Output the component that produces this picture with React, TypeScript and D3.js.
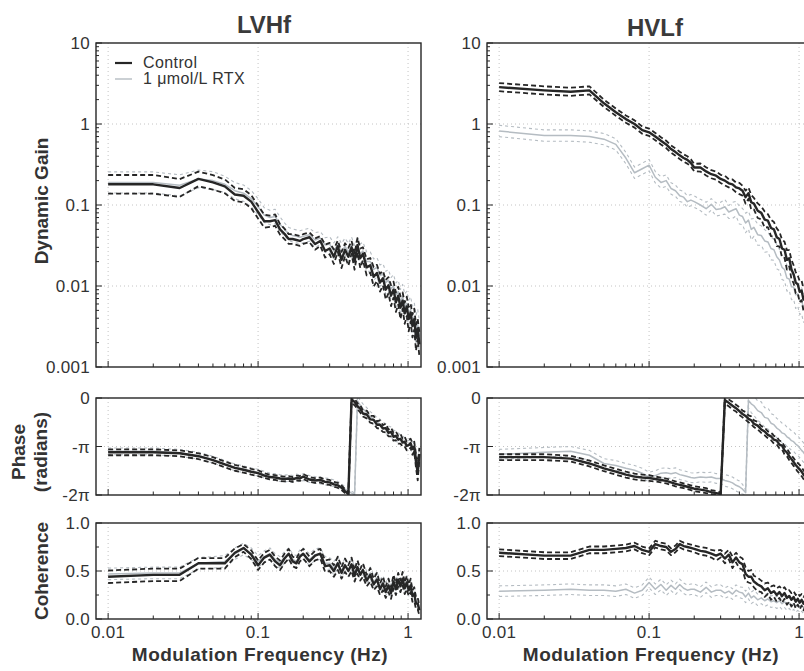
import * as d3 from 'd3';

// modulation frequencies (Hz)
const freq = [
  0.01, 0.02, 0.03, 0.04, 0.05, 0.06, 0.07, 0.08, 0.09, 0.10,
  0.11, 0.12, 0.13, 0.14, 0.15, 0.16, 0.17, 0.18, 0.19, 0.20,
  0.22, 0.24, 0.26, 0.28, 0.30, 0.32, 0.34, 0.36, 0.38, 0.40,
  0.42, 0.44, 0.46, 0.48, 0.50, 0.53, 0.56, 0.59, 0.62, 0.65,
  0.68, 0.71, 0.74, 0.77, 0.80, 0.83, 0.86, 0.89, 0.92, 0.95,
  0.98, 1.01, 1.04, 1.07, 1.10, 1.13, 1.16, 1.19,
];

// ---- LVHf ----
const lvGainCtl = [
  0.18, 0.18, 0.162, 0.21, 0.19, 0.17, 0.135, 0.13, 0.11, 0.082,
  0.063, 0.063, 0.065, 0.05, 0.044, 0.038, 0.038, 0.037, 0.036, 0.038,
  0.04, 0.033, 0.036, 0.027, 0.029, 0.023, 0.031, 0.021, 0.028, 0.023,
  0.03, 0.02, 0.032, 0.022, 0.025, 0.017, 0.018, 0.013, 0.0145, 0.011,
  0.0125, 0.009, 0.0102, 0.0076, 0.009, 0.0063, 0.0076, 0.0054, 0.0066, 0.0046,
  0.0056, 0.0039, 0.0047, 0.0032, 0.0039, 0.0023, 0.003, 0.0019,
];
const lvGainCtlSe = [
  0.115, 0.115, 0.11, 0.09, 0.09, 0.085, 0.08, 0.08, 0.08, 0.08,
  0.08, 0.07, 0.07, 0.065, 0.065, 0.06, 0.06, 0.06, 0.06, 0.06,
  0.06, 0.07, 0.06, 0.08, 0.07, 0.09, 0.07, 0.1, 0.08, 0.11,
  0.08, 0.1, 0.09, 0.12, 0.08, 0.1, 0.09, 0.12, 0.1, 0.11,
  0.09, 0.12, 0.1, 0.13, 0.1, 0.12, 0.11, 0.14, 0.1, 0.13,
  0.12, 0.15, 0.11, 0.14, 0.13, 0.16, 0.12, 0.15,
];
const lvGainRtx = [
  0.19, 0.19, 0.175, 0.21, 0.2, 0.18, 0.15, 0.14, 0.12, 0.095,
  0.075, 0.07, 0.072, 0.058, 0.05, 0.044, 0.042, 0.041, 0.04, 0.041,
  0.043, 0.037, 0.039, 0.032, 0.033, 0.027, 0.033, 0.026, 0.031, 0.026,
  0.032, 0.024, 0.031, 0.025, 0.027, 0.02, 0.02, 0.016, 0.017, 0.0135,
  0.014, 0.011, 0.0118, 0.0092, 0.01, 0.0077, 0.0085, 0.0064, 0.0074, 0.0055,
  0.0061, 0.0046, 0.0051, 0.0038, 0.0042, 0.0029, 0.0034, 0.0024,
];
const lvGainRtxSe = [
  0.13, 0.13, 0.13, 0.11, 0.11, 0.1, 0.1, 0.1, 0.1, 0.1,
  0.09, 0.09, 0.09, 0.09, 0.08, 0.08, 0.08, 0.08, 0.08, 0.08,
  0.08, 0.09, 0.08, 0.09, 0.09, 0.1, 0.09, 0.11, 0.1, 0.11,
  0.1, 0.12, 0.11, 0.12, 0.11, 0.12, 0.12, 0.13, 0.12, 0.13,
  0.13, 0.14, 0.13, 0.14, 0.14, 0.15, 0.14, 0.15, 0.15, 0.16,
  0.15, 0.16, 0.16, 0.17, 0.17, 0.18, 0.18, 0.19,
];
// phase in units of pi radians
const lvPhaseCtl = [
  -1.12, -1.12, -1.14, -1.2, -1.28, -1.37, -1.44, -1.48, -1.52, -1.55,
  -1.6, -1.63, -1.64, -1.66, -1.67, -1.66, -1.68, -1.65, -1.66, -1.62,
  -1.68, -1.7, -1.69, -1.73, -1.74, -1.78, -1.8, -1.85, -1.92, -1.98,
  -0.03, -0.08, -0.17, -0.22, -0.32, -0.34, -0.44, -0.45, -0.55, -0.55,
  -0.63, -0.62, -0.72, -0.7, -0.8, -0.78, -0.86, -0.84, -0.92, -0.9,
  -0.99, -0.97, -0.93, -1.05, -1.0, -1.3, -1.55, -1.15,
];
const lvPhaseCtlSe = [
  0.06, 0.06, 0.06, 0.06, 0.06, 0.06, 0.06, 0.06, 0.06, 0.06,
  0.05, 0.05, 0.05, 0.05, 0.05, 0.05, 0.05, 0.05, 0.05, 0.05,
  0.05, 0.05, 0.05, 0.05, 0.05, 0.05, 0.05, 0.05, 0.04, 0.03,
  0.06, 0.07, 0.06, 0.08, 0.06, 0.08, 0.07, 0.08, 0.07, 0.09,
  0.07, 0.09, 0.07, 0.09, 0.08, 0.09, 0.08, 0.1, 0.08, 0.1,
  0.09, 0.11, 0.09, 0.12, 0.1, 0.14, 0.15, 0.12,
];
const lvPhaseRtx = [
  -1.1, -1.1, -1.13, -1.19, -1.27, -1.36, -1.43, -1.47, -1.51, -1.54,
  -1.58, -1.62, -1.63, -1.65, -1.66, -1.65, -1.67, -1.64, -1.66, -1.63,
  -1.67, -1.69, -1.7, -1.72, -1.73, -1.76, -1.79, -1.83, -1.88, -1.92,
  -1.96, -1.99, -0.06, -0.15, -0.22, -0.3, -0.38, -0.44, -0.5, -0.54,
  -0.6, -0.63, -0.68, -0.7, -0.76, -0.79, -0.82, -0.86, -0.88, -0.92,
  -0.95, -0.98, -0.96, -1.02, -1.08, -1.25, -1.4, -1.2,
];
const lvPhaseRtxSe = [
  0.07, 0.07, 0.07, 0.07, 0.07, 0.07, 0.07, 0.07, 0.07, 0.07,
  0.07, 0.07, 0.07, 0.07, 0.07, 0.07, 0.07, 0.07, 0.07, 0.07,
  0.07, 0.07, 0.07, 0.07, 0.07, 0.07, 0.07, 0.06, 0.05, 0.05,
  0.04, 0.03, 0.1, 0.1, 0.1, 0.1, 0.1, 0.1, 0.1, 0.1,
  0.1, 0.1, 0.1, 0.1, 0.1, 0.1, 0.1, 0.1, 0.1, 0.1,
  0.1, 0.1, 0.1, 0.12, 0.12, 0.15, 0.15, 0.15,
];
const lvCohCtl = [
  0.44, 0.46, 0.46, 0.58, 0.58, 0.58, 0.69, 0.74, 0.67, 0.56,
  0.64, 0.67, 0.6, 0.56, 0.63, 0.68, 0.6, 0.58, 0.65, 0.68,
  0.6, 0.66, 0.68, 0.55, 0.56, 0.5, 0.58, 0.48, 0.56, 0.5,
  0.57, 0.45, 0.54, 0.46, 0.51, 0.4, 0.46, 0.36, 0.41, 0.31,
  0.37, 0.28, 0.35, 0.27, 0.39, 0.31, 0.41, 0.34, 0.42, 0.32,
  0.38, 0.3, 0.35, 0.24, 0.26, 0.16, 0.16, 0.09,
];
const lvCohCtlSe = [
  0.065, 0.065, 0.065, 0.055, 0.055, 0.055, 0.045, 0.04, 0.045, 0.05,
  0.05, 0.05, 0.05, 0.05, 0.05, 0.05, 0.05, 0.05, 0.05, 0.05,
  0.05, 0.05, 0.05, 0.06, 0.06, 0.06, 0.07, 0.06, 0.07, 0.06,
  0.07, 0.06, 0.07, 0.06, 0.07, 0.06, 0.07, 0.06, 0.07, 0.06,
  0.07, 0.06, 0.07, 0.06, 0.07, 0.06, 0.07, 0.06, 0.07, 0.06,
  0.07, 0.06, 0.07, 0.06, 0.07, 0.06, 0.06, 0.05,
];
const lvCohRtx = [
  0.47, 0.48, 0.48, 0.58, 0.59, 0.6, 0.68, 0.73, 0.68, 0.6,
  0.65, 0.68, 0.62, 0.59, 0.64, 0.68, 0.62, 0.6, 0.66, 0.68,
  0.62, 0.67, 0.68, 0.58, 0.58, 0.53, 0.59, 0.5, 0.57, 0.51,
  0.57, 0.48, 0.55, 0.47, 0.52, 0.43, 0.48, 0.38, 0.43, 0.34,
  0.39, 0.31, 0.37, 0.29, 0.4, 0.33, 0.42, 0.35, 0.42, 0.34,
  0.39, 0.31, 0.36, 0.26, 0.28, 0.18, 0.18, 0.11,
];
const lvCohRtxSe = [
  0.06, 0.06, 0.06, 0.06, 0.06, 0.06, 0.06, 0.06, 0.06, 0.06,
  0.06, 0.06, 0.06, 0.06, 0.06, 0.06, 0.06, 0.06, 0.06, 0.06,
  0.06, 0.06, 0.06, 0.07, 0.06, 0.07, 0.06, 0.07, 0.06, 0.07,
  0.06, 0.07, 0.06, 0.07, 0.06, 0.07, 0.06, 0.07, 0.06, 0.07,
  0.06, 0.07, 0.06, 0.07, 0.06, 0.07, 0.06, 0.07, 0.06, 0.07,
  0.06, 0.07, 0.06, 0.07, 0.06, 0.07, 0.06, 0.06,
];

// ---- HVLf ----
const hvGainCtl = [
  2.85, 2.6, 2.5, 2.6, 1.8, 1.4, 1.15, 1.0, 0.84, 0.79,
  0.7, 0.62, 0.56, 0.49, 0.45, 0.41, 0.38, 0.36, 0.33, 0.29,
  0.29, 0.26, 0.24, 0.23, 0.21, 0.2, 0.185, 0.18, 0.165, 0.16,
  0.15, 0.125, 0.14, 0.108, 0.104, 0.085, 0.08, 0.066, 0.064, 0.052,
  0.05, 0.04, 0.038, 0.029, 0.028, 0.021, 0.022, 0.016, 0.014, 0.011,
  0.0105, 0.0085, 0.0088, 0.0068, 0.0072, 0.0055, 0.0058, 0.0045,
];
const hvGainCtlSe = [
  0.05, 0.05, 0.05, 0.05, 0.045, 0.045, 0.045, 0.045, 0.045, 0.045,
  0.045, 0.045, 0.045, 0.045, 0.045, 0.045, 0.045, 0.045, 0.045, 0.045,
  0.05, 0.05, 0.05, 0.05, 0.05, 0.06, 0.05, 0.06, 0.06, 0.07,
  0.06, 0.08, 0.07, 0.09, 0.07, 0.09, 0.08, 0.1, 0.08, 0.1,
  0.09, 0.11, 0.09, 0.11, 0.1, 0.12, 0.1, 0.12, 0.11, 0.13,
  0.11, 0.13, 0.12, 0.14, 0.12, 0.14, 0.13, 0.15,
];
const hvGainRtx = [
  0.82, 0.72, 0.72, 0.7, 0.65, 0.56, 0.38, 0.25, 0.28, 0.31,
  0.22, 0.19, 0.2, 0.16, 0.15, 0.13, 0.125, 0.11, 0.115, 0.11,
  0.1, 0.09, 0.102, 0.088, 0.09, 0.095, 0.082, 0.086, 0.09, 0.075,
  0.072, 0.06, 0.065, 0.05, 0.053, 0.043, 0.042, 0.036, 0.035, 0.029,
  0.028, 0.023, 0.021, 0.017, 0.016, 0.0125, 0.0122, 0.0098, 0.0097, 0.0078,
  0.008, 0.0066, 0.0066, 0.0054, 0.0054, 0.0045, 0.0045, 0.0037,
];
const hvGainRtxSe = [
  0.07, 0.07, 0.07, 0.07, 0.07, 0.07, 0.07, 0.07, 0.07, 0.07,
  0.07, 0.07, 0.07, 0.07, 0.07, 0.07, 0.07, 0.07, 0.07, 0.07,
  0.07, 0.08, 0.07, 0.08, 0.08, 0.09, 0.08, 0.1, 0.09, 0.11,
  0.1, 0.12, 0.11, 0.13, 0.11, 0.13, 0.12, 0.14, 0.12, 0.14,
  0.13, 0.15, 0.13, 0.15, 0.14, 0.16, 0.14, 0.16, 0.15, 0.17,
  0.15, 0.17, 0.16, 0.18, 0.16, 0.18, 0.17, 0.19,
];
const hvPhaseCtl = [
  -1.22, -1.22, -1.25, -1.35, -1.45, -1.52, -1.58, -1.62, -1.64, -1.65,
  -1.67, -1.69, -1.71, -1.74, -1.77, -1.79, -1.81, -1.83, -1.85, -1.87,
  -1.89, -1.91, -1.94, -1.96, -1.98, -0.04, -0.1, -0.16, -0.21, -0.27,
  -0.33, -0.37, -0.43, -0.46, -0.53, -0.57, -0.65, -0.69, -0.76, -0.79,
  -0.86, -0.88, -0.96, -0.98, -1.08, -1.12, -1.2, -1.26, -1.32, -1.38,
  -1.43, -1.47, -1.52, -1.58, -1.62, -1.67, -1.72, -1.76,
];
const hvPhaseCtlSe = [
  0.06, 0.06, 0.06, 0.06, 0.06, 0.06, 0.06, 0.06, 0.06, 0.06,
  0.05, 0.05, 0.05, 0.05, 0.05, 0.05, 0.05, 0.05, 0.05, 0.05,
  0.05, 0.05, 0.04, 0.04, 0.03, 0.08, 0.07, 0.08, 0.07, 0.08,
  0.07, 0.08, 0.07, 0.08, 0.07, 0.08, 0.07, 0.08, 0.07, 0.08,
  0.08, 0.08, 0.08, 0.08, 0.08, 0.08, 0.08, 0.08, 0.08, 0.08,
  0.09, 0.09, 0.09, 0.09, 0.09, 0.09, 0.09, 0.09,
];
const hvPhaseRtx = [
  -1.16, -1.12, -1.1, -1.18, -1.35, -1.39, -1.45, -1.49, -1.55, -1.63,
  -1.6, -1.55, -1.54, -1.56, -1.54, -1.58, -1.6, -1.62, -1.64, -1.65,
  -1.63, -1.64, -1.63, -1.66, -1.66, -1.7, -1.72, -1.75, -1.8, -1.83,
  -1.88, -1.95, -0.05, -0.12, -0.16, -0.26, -0.3, -0.4, -0.42, -0.52,
  -0.55, -0.62, -0.66, -0.72, -0.74, -0.8, -0.83, -0.88, -0.9, -0.95,
  -0.98, -1.03, -1.08, -1.12, -1.18, -1.22, -1.28, -1.32,
];
const hvPhaseRtxSe = [
  0.1, 0.1, 0.1, 0.1, 0.1, 0.1, 0.1, 0.1, 0.1, 0.1,
  0.1, 0.1, 0.1, 0.1, 0.1, 0.1, 0.1, 0.1, 0.1, 0.1,
  0.1, 0.1, 0.1, 0.1, 0.1, 0.12, 0.12, 0.12, 0.12, 0.12,
  0.1, 0.05, 0.15, 0.18, 0.2, 0.2, 0.22, 0.2, 0.22, 0.2,
  0.2, 0.2, 0.2, 0.2, 0.2, 0.2, 0.2, 0.2, 0.2, 0.2,
  0.2, 0.2, 0.2, 0.2, 0.2, 0.2, 0.2, 0.2,
];
const hvCohCtl = [
  0.69, 0.66, 0.66, 0.72, 0.72, 0.73, 0.74, 0.76, 0.72, 0.7,
  0.78, 0.76, 0.75, 0.7, 0.73, 0.78, 0.76, 0.75, 0.74, 0.73,
  0.71, 0.7, 0.68, 0.66, 0.68, 0.63, 0.67, 0.59, 0.64, 0.59,
  0.57, 0.47, 0.44, 0.44, 0.39, 0.36, 0.34, 0.3, 0.32, 0.27,
  0.29, 0.25, 0.28, 0.24, 0.27, 0.22, 0.24, 0.2, 0.23, 0.18,
  0.21, 0.17, 0.2, 0.16, 0.19, 0.15, 0.18, 0.15,
];
const hvCohCtlSe = [
  0.035, 0.035, 0.035, 0.035, 0.035, 0.035, 0.035, 0.035, 0.035, 0.035,
  0.035, 0.035, 0.035, 0.035, 0.035, 0.035, 0.035, 0.035, 0.035, 0.035,
  0.04, 0.04, 0.04, 0.05, 0.04, 0.05, 0.05, 0.06, 0.05, 0.06,
  0.06, 0.07, 0.06, 0.07, 0.06, 0.07, 0.06, 0.07, 0.06, 0.07,
  0.06, 0.07, 0.06, 0.07, 0.06, 0.07, 0.06, 0.07, 0.06, 0.07,
  0.06, 0.07, 0.06, 0.07, 0.06, 0.07, 0.06, 0.07,
];
const hvCohRtx = [
  0.29, 0.3, 0.31, 0.3, 0.3, 0.29, 0.31, 0.27, 0.3, 0.38,
  0.31, 0.36, 0.3, 0.35, 0.31, 0.36, 0.32, 0.3, 0.31, 0.31,
  0.28, 0.33, 0.28, 0.3, 0.3, 0.27, 0.29, 0.26, 0.3, 0.28,
  0.27, 0.23, 0.27, 0.22, 0.24, 0.2, 0.22, 0.19, 0.21, 0.18,
  0.19, 0.17, 0.19, 0.16, 0.18, 0.15, 0.17, 0.14, 0.16, 0.13,
  0.15, 0.13, 0.14, 0.12, 0.14, 0.12, 0.13, 0.11,
];
const hvCohRtxSe = [
  0.055, 0.055, 0.055, 0.055, 0.055, 0.055, 0.055, 0.055, 0.055, 0.055,
  0.055, 0.055, 0.055, 0.055, 0.055, 0.055, 0.055, 0.055, 0.055, 0.055,
  0.055, 0.055, 0.055, 0.055, 0.055, 0.055, 0.055, 0.055, 0.055, 0.055,
  0.06, 0.06, 0.06, 0.06, 0.06, 0.06, 0.06, 0.06, 0.06, 0.06,
  0.06, 0.06, 0.06, 0.06, 0.06, 0.06, 0.06, 0.06, 0.06, 0.06,
  0.06, 0.06, 0.06, 0.06, 0.06, 0.06, 0.06, 0.06,
];

const panelTitles = ['LVHf', 'HVLf'];
const gainTicks = [10, 1, 0.1, 0.01, 0.001];
const gainTickLabels = ['10', '1', '0.1', '0.01', '0.001'];
const phaseTicks = [0, -1, -2];
const phaseTickLabels = ['0', '-\u03c0', '-2\u03c0'];
const cohTicks = [1, 0.5, 0];
const cohTickLabels = ['1.0', '0.5', '0.0'];
const freqTicks = [0.01, 0.1, 1];
const freqTickLabels = ['0.01', '0.1', '1'];
const legendLabels = ['Control', '1 \u03bcmol/L RTX'];

const FONT = '"Liberation Sans", Arial, Helvetica, sans-serif';
const INK = '#262626';
const GREY = '#b5bcc2';
const TXT = '#333';

const panelW = 325;
const colX = [96, 487];
const rows = {
  gain: { top: 43, h: 324 },
  phase: { top: 398, h: 97 },
  coh: { top: 523, h: 96 },
};

const xScale = d3.scaleLog().domain([0.0083, 1.22]).range([0, panelW]);
const minorFreq = [0.02, 0.03, 0.04, 0.05, 0.06, 0.07, 0.08, 0.09, 0.2, 0.3, 0.4, 0.5, 0.6, 0.7, 0.8, 0.9];

type Series = { values: number[]; se: number[]; log: boolean; ctl: boolean };

function band(s: Series, sign: number) {
  return s.values.map((v, i) => (s.log ? v * Math.pow(10, sign * s.se[i]) : v + sign * s.se[i]));
}

function Panel(props: {
  id: string;
  x0: number;
  top: number;
  h: number;
  y: any;
  ticks: number[];
  tickLabels: string[];
  minorTicks: number[];
  gridY: number[];
  series: Series[];
  xLabels: boolean;
}) {
  const { id, x0, top, h, y, ticks, tickLabels, minorTicks, gridY, series, xLabels } = props;
  const line = d3
    .line<number>()
    .defined((v) => v != null && isFinite(v))
    .x((_, i) => xScale(freq[i]))
    .y((v) => y(v));

  // RTX drawn first, control on top
  const ordered = [...series].sort((a, b) => Number(a.ctl) - Number(b.ctl));

  return (
    <g transform={`translate(${x0},${top})`}>
      <defs>
        <clipPath id={id}>
          <rect x={0} y={0} width={panelW} height={h} />
        </clipPath>
      </defs>
      {/* dotted grid */}
      <g stroke="#c4c4c4" strokeWidth={1} strokeDasharray="1 3">
        {freqTicks.map((f) => (
          <line key={'gx' + f} x1={xScale(f)} x2={xScale(f)} y1={0} y2={h} />
        ))}
        {gridY.map((v) => (
          <line key={'gy' + v} x1={0} x2={panelW} y1={y(v)} y2={y(v)} />
        ))}
      </g>
      <g clipPath={`url(#${id})`} fill="none" strokeLinejoin="round">
        {ordered.map((s, k) => {
          const color = s.ctl ? INK : GREY;
          const dw = s.ctl ? 1.8 : 1.1;
          const dash = s.ctl ? '5 3' : '3 3';
          return (
            <g key={k} stroke={color}>
              <path d={line(band(s, 1)) || ''} strokeWidth={dw} strokeDasharray={dash} />
              <path d={line(band(s, -1)) || ''} strokeWidth={dw} strokeDasharray={dash} />
              <path d={line(s.values) || ''} strokeWidth={s.ctl ? 2.4 : 1.5} />
            </g>
          );
        })}
      </g>
      {/* ticks inside the frame */}
      <g stroke={INK} strokeWidth={1}>
        {freqTicks.map((f) => (
          <line key={'xt' + f} x1={xScale(f)} x2={xScale(f)} y1={h} y2={h - 6} />
        ))}
        {minorFreq.map((f) => (
          <line key={'xm' + f} x1={xScale(f)} x2={xScale(f)} y1={h} y2={h - 3.5} />
        ))}
        {ticks.map((v) => (
          <line key={'yt' + v} x1={0} x2={6} y1={y(v)} y2={y(v)} />
        ))}
        {minorTicks.map((v) => (
          <line key={'ym' + v} x1={0} x2={3} y1={y(v)} y2={y(v)} />
        ))}
      </g>
      <rect x={0} y={0} width={panelW} height={h} fill="none" stroke={INK} strokeWidth={1.4} />
      <g fontFamily={FONT} fontSize={17} letterSpacing={0.3} fill={TXT}>
        {ticks.map((v, i) => (
          <text key={'yl' + v} x={-6} y={y(v)} dy="0.36em" textAnchor="end">
            {tickLabels[i]}
          </text>
        ))}
        {xLabels &&
          freqTicks.map((f, i) => (
            <text key={'xl' + f} x={xScale(f)} y={h + 19} textAnchor="middle">
              {freqTickLabels[i]}
            </text>
          ))}
      </g>
    </g>
  );
}

export default function App() {
  const gainY = d3.scaleLog().domain([0.001, 10]).range([rows.gain.h, 0]);
  const phaseY = d3.scaleLinear().domain([-2, 0]).range([rows.phase.h, 0]);
  const cohY = d3.scaleLinear().domain([0, 1]).range([rows.coh.h, 0]);

  const gainMinor: number[] = [];
  [0.001, 0.01, 0.1, 1].forEach((d) => {
    for (let m = 2; m <= 9; m++) gainMinor.push(d * m);
  });

  const cols = [
    {
      gain: [
        { values: lvGainCtl, se: lvGainCtlSe, log: true, ctl: true },
        { values: lvGainRtx, se: lvGainRtxSe, log: true, ctl: false },
      ],
      phase: [
        { values: lvPhaseCtl, se: lvPhaseCtlSe, log: false, ctl: true },
        { values: lvPhaseRtx, se: lvPhaseRtxSe, log: false, ctl: false },
      ],
      coh: [
        { values: lvCohCtl, se: lvCohCtlSe, log: false, ctl: true },
        { values: lvCohRtx, se: lvCohRtxSe, log: false, ctl: false },
      ],
    },
    {
      gain: [
        { values: hvGainCtl, se: hvGainCtlSe, log: true, ctl: true },
        { values: hvGainRtx, se: hvGainRtxSe, log: true, ctl: false },
      ],
      phase: [
        { values: hvPhaseCtl, se: hvPhaseCtlSe, log: false, ctl: true },
        { values: hvPhaseRtx, se: hvPhaseRtxSe, log: false, ctl: false },
      ],
      coh: [
        { values: hvCohCtl, se: hvCohCtlSe, log: false, ctl: true },
        { values: hvCohRtx, se: hvCohRtxSe, log: false, ctl: false },
      ],
    },
  ];

  return (
    <svg
      width={804}
      height={671}
      viewBox="0 0 804 671"
      style={{ position: 'absolute', left: 0, top: 0, background: '#fff' }}
    >
      <rect width={804} height={671} fill="#fff" />
      {cols.map((c, ci) => {
        const x0 = colX[ci];
        return (
          <g key={ci}>
            <text
              x={x0 + 168}
              y={ci === 0 ? 33 : 36}
              textAnchor="middle"
              fontFamily={FONT}
              fontWeight="bold"
              fontSize={24}
              fill="#3a3a3a"
            >
              {panelTitles[ci]}
            </text>
            <Panel
              id={`gain${ci}`}
              x0={x0}
              top={rows.gain.top}
              h={rows.gain.h}
              y={gainY}
              ticks={gainTicks}
              tickLabels={gainTickLabels}
              minorTicks={gainMinor}
              gridY={[1, 0.1, 0.01]}
              series={c.gain}
              xLabels={false}
            />
            <Panel
              id={`phase${ci}`}
              x0={x0}
              top={rows.phase.top}
              h={rows.phase.h}
              y={phaseY}
              ticks={phaseTicks}
              tickLabels={phaseTickLabels}
              minorTicks={[]}
              gridY={[-1]}
              series={c.phase}
              xLabels={false}
            />
            <Panel
              id={`coh${ci}`}
              x0={x0}
              top={rows.coh.top}
              h={rows.coh.h}
              y={cohY}
              ticks={cohTicks}
              tickLabels={cohTickLabels}
              minorTicks={[0.25, 0.75]}
              gridY={[0.5]}
              series={c.coh}
              xLabels={true}
            />
            <text
              x={x0 + 164}
              y={661}
              textAnchor="middle"
              fontFamily={FONT}
              fontWeight="bold"
              fontSize={19}
              letterSpacing={0.5}
              fill="#333"
            >
              Modulation Frequency (Hz)
            </text>
          </g>
        );
      })}

      {/* y axis titles */}
      <g fontFamily={FONT} fontWeight="bold" fontSize={19} fill="#333" textAnchor="middle">
        <text transform="translate(48,201) rotate(-90)">Dynamic Gain</text>
        <text transform="translate(25,452) rotate(-90)">Phase</text>
        <text transform="translate(47,452) rotate(-90)">(radians)</text>
        <text transform="translate(48,571) rotate(-90)">Coherence</text>
      </g>

      {/* legend */}
      <g fontFamily={FONT} fontSize={16} letterSpacing={0.4} fill={TXT}>
        <line x1={115} x2={132} y1={63} y2={63} stroke={INK} strokeWidth={2.2} />
        <text x={143} y={68}>{legendLabels[0]}</text>
        <line x1={115} x2={132} y1={79} y2={79} stroke={GREY} strokeWidth={1.4} />
        <text x={143} y={84}>{legendLabels[1]}</text>
      </g>
    </svg>
  );
}
